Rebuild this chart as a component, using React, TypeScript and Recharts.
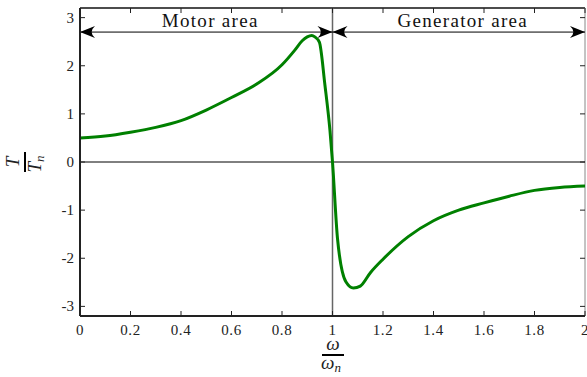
import {
  Line,
  LineChart,
  ReferenceLine,
  XAxis,
  YAxis,
} from "recharts";

// speed ratio ω/ωn and torque ratio T/Tn
const omega = [
  0, 0.1, 0.2, 0.3, 0.4, 0.5, 0.6, 0.7, 0.8, 0.85, 0.88, 0.9, 0.918, 0.93,
  0.948, 0.97, 0.99, 1.0, 1.02, 1.053, 1.083, 1.11, 1.15, 1.2, 1.3, 1.4, 1.5,
  1.6, 1.7, 1.8, 1.9, 2.0,
];
const torque = [
  0.5, 0.54, 0.62, 0.72, 0.86, 1.08, 1.34, 1.62, 2.02, 2.32, 2.52, 2.6, 2.63,
  2.6, 2.49, 1.6, 0.65, 0, -1.6, -2.49, -2.62, -2.58, -2.3, -2.02, -1.55,
  -1.22, -1.0, -0.85, -0.71, -0.59, -0.53, -0.5,
];
const xTicks = [0, 0.2, 0.4, 0.6, 0.8, 1, 1.2, 1.4, 1.6, 1.8, 2];
const yTicks = [-3, -2, -1, 0, 1, 2, 3];
const regions = [
  { from: 0, to: 1, label: "Motor area" },
  { from: 1, to: 2, label: "Generator area" },
];
const arrowLevel = 2.7;

const data = omega.map((w, i) => ({ w, t: torque[i] }));

const W = 587;
const H = 377;
const TOP = 8;
const RIGHT = 585;
const serif = { fontFamily: "Liberation Serif, DejaVu Serif, serif" };

const BottomTick = (props: any) => {
  const { x, y, payload } = props;
  return (
    <g>
      <line x1={x} x2={x} y1={y} y2={y - 5} stroke="#222" />
      <line x1={x} x2={x} y1={TOP} y2={TOP + 5} stroke="#222" />
      <text x={x} y={y + 19} textAnchor="middle" style={serif} fontSize={15} fill="#222" letterSpacing={0.6}>
        {String(payload.value)}
      </text>
    </g>
  );
};

const LeftTick = (props: any) => {
  const { x, y, payload } = props;
  return (
    <g>
      <line x1={x} x2={x + 5} y1={y} y2={y} stroke="#222" />
      <line x1={RIGHT} x2={RIGHT - 5} y1={y} y2={y} stroke="#222" />
      <text x={x - 6} y={y + 5} textAnchor="end" style={serif} fontSize={15} fill="#222">
        {String(payload.value)}
      </text>
    </g>
  );
};

const head = (tx: number, ty: number, dir: number) => {
  const L = 15;
  const h = 6;
  return `M${tx},${ty} L${tx + dir * L},${ty - h} Q${tx + dir * L * 0.55},${ty} ${tx + dir * L},${ty + h} Z`;
};

const arrowShape = (label: string) => (props: any) => {
  const { x1, y1, x2, y2 } = props;
  const mid = (x1 + x2) / 2;
  return (
    <g>
      <line x1={x1} y1={y1} x2={x2} y2={y2} stroke="#000" strokeWidth={1} />
      <path d={head(Math.min(x1, x2), y1, 1)} fill="#000" />
      <path d={head(Math.max(x1, x2), y1, -1)} fill="#000" />
      <text
        x={mid + 4}
        y={y1 - 5}
        textAnchor="middle"
        style={serif}
        fontSize={19}
        letterSpacing={1.3}
        fill="#111"
      >
        {label}
      </text>
    </g>
  );
};

export default function App() {
  return (
    <div style={{ position: "absolute", left: 0, top: 0, width: W, height: H, background: "#fff" }}>
      <LineChart width={W} height={H} data={data} margin={{ top: TOP, right: W - RIGHT, bottom: 0, left: 0 }}>
        <XAxis
          dataKey="w"
          type="number"
          domain={[0, 2]}
          ticks={xTicks}
          height={61}
          tickSize={0}
          tickMargin={0}
          tickLine={false}
          tick={BottomTick}
          axisLine={{ stroke: "#222", strokeWidth: 2 }}
          interval={0}
        />
        <YAxis
          type="number"
          domain={[-3.2, 3.2]}
          ticks={yTicks}
          width={80}
          tickSize={0}
          tickMargin={0}
          tickLine={false}
          tick={LeftTick}
          axisLine={{ stroke: "#222", strokeWidth: 2 }}
          interval={0}
        />
        <ReferenceLine y={3.2} stroke="#111" strokeWidth={1.5} />
        <ReferenceLine x={2} stroke="#888" strokeWidth={1} />
        <ReferenceLine y={0} stroke="#000" strokeWidth={1} />
        <ReferenceLine x={1} stroke="#666" strokeWidth={1.5} />
        {regions.map((r) => (
          <ReferenceLine
            key={r.label}
            segment={[
              { x: r.from, y: arrowLevel },
              { x: r.to, y: arrowLevel },
            ]}
            shape={arrowShape(r.label)}
          />
        ))}
        <Line
          dataKey="t"
          type="monotone"
          stroke="#008000"
          strokeWidth={3}
          dot={false}
          isAnimationActive={false}
        />
      </LineChart>
      <svg width={W} height={H} style={{ position: "absolute", left: 0, top: 0, pointerEvents: "none" }}>
        <g transform="translate(25,162) rotate(-90)" style={serif} fontStyle="italic" fill="#222">
          <text x={0} y={-6} textAnchor="middle" fontSize={19}>T</text>
          <line x1={-10} x2={10} y1={0} y2={0} stroke="#000" strokeWidth={2} />
          <text x={-2} y={16} textAnchor="middle" fontSize={19}>
            T<tspan fontSize={13} dy={3}>n</tspan>
          </text>
        </g>
        <g style={serif} fontStyle="italic" fill="#222">
          <text x={333} y={350} textAnchor="middle" fontSize={19}>ω</text>
          <line x1={322} x2={344} y1={355} y2={355} stroke="#000" strokeWidth={2} />
          <text x={331} y={369} textAnchor="middle" fontSize={19}>
            ω<tspan fontSize={13} dy={3}>n</tspan>
          </text>
        </g>
      </svg>
    </div>
  );
}
